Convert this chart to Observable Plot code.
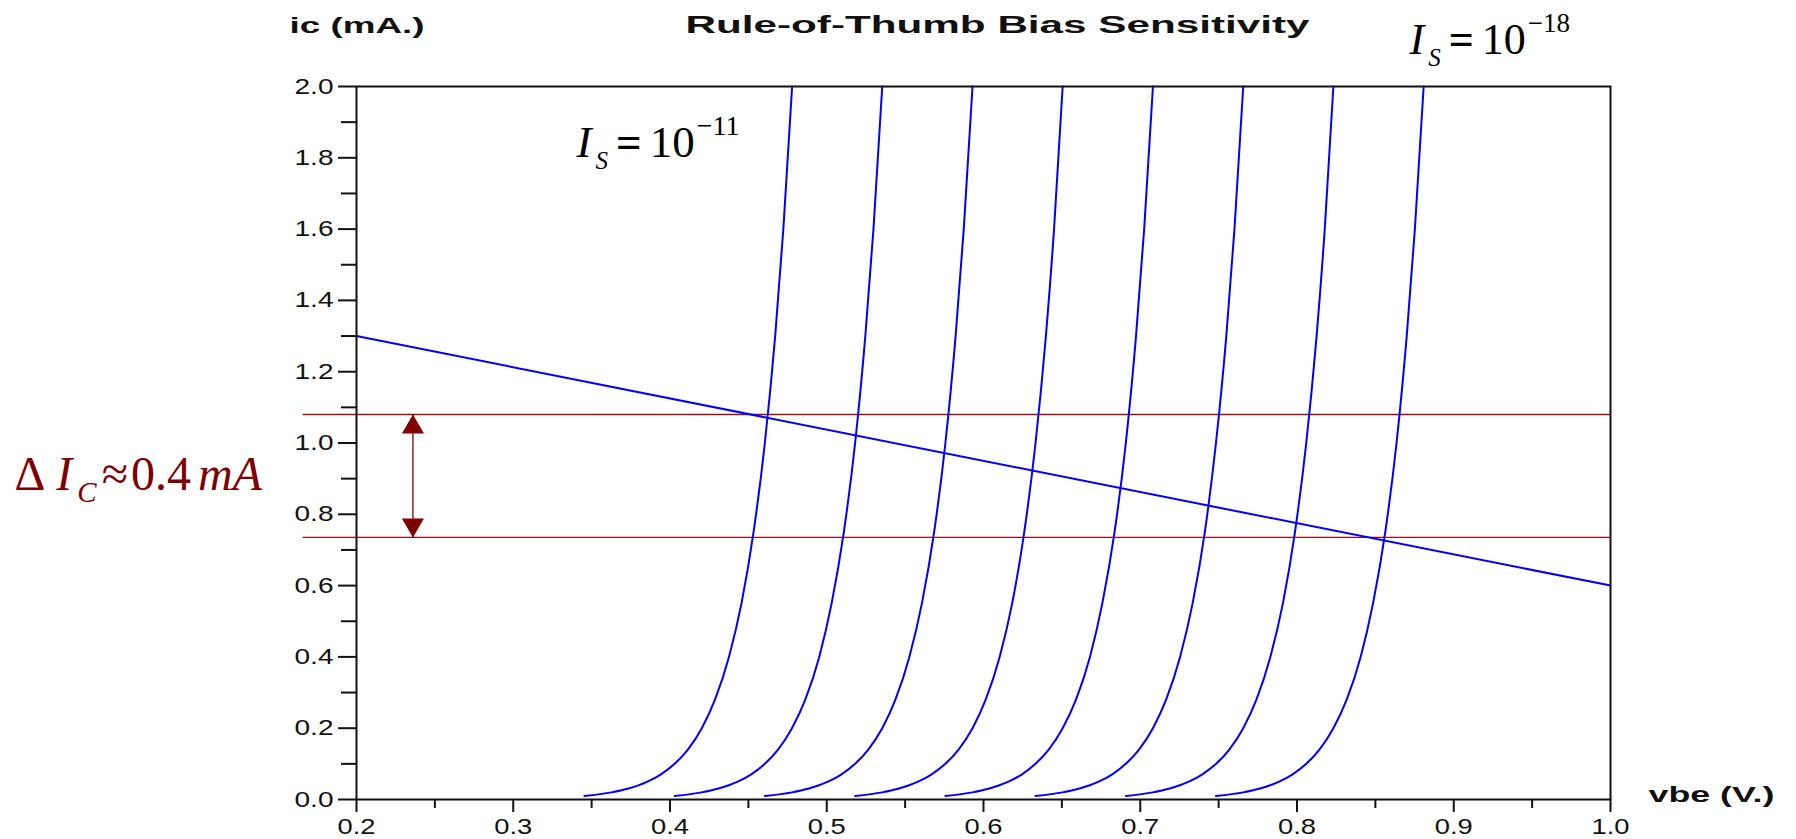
<!DOCTYPE html>
<html>
<head>
<meta charset="utf-8">
<script src="https://cdn.jsdelivr.net/npm/d3@7"></script>
<script src="https://cdn.jsdelivr.net/npm/@observablehq/plot@0.6"></script>
<style>
  html, body { margin: 0; padding: 0; background: #fff; overflow: hidden; }
</style>
</head>
<body>
<script>
// ---- data ----
const vbeTicks = [0.2, 0.3, 0.4, 0.5, 0.6, 0.7, 0.8, 0.9, 1.0];
const vbeMinorTicks = [0.25, 0.35, 0.45, 0.55, 0.65, 0.75, 0.85, 0.95];
const icTicks = [0.0, 0.2, 0.4, 0.6, 0.8, 1.0, 1.2, 1.4, 1.6, 1.8, 2.0];
const icMinorTicks = [0.1, 0.3, 0.5, 0.7, 0.9, 1.1, 1.3, 1.5, 1.7, 1.9];

const isLabels = ["1e-11", "1e-12", "1e-13", "1e-14", "1e-15", "1e-16", "1e-17", "1e-18"];
// collector current levels (mA) sampled along each curve
const icLevels = [0.01, 0.02, 0.03, 0.05, 0.07, 0.1, 0.14, 0.2, 0.28, 0.4, 0.55, 0.75, 1.0, 1.3, 1.6, 2.0];
// base-emitter voltage (V) of each curve at those levels
const vbeIs11 = [0.3454, 0.3627, 0.3729, 0.3856, 0.3940, 0.4030, 0.4114, 0.4203, 0.4287, 0.4376, 0.4456, 0.4533, 0.4605, 0.4671, 0.4723, 0.4779];
const vbeIs12 = [0.4030, 0.4203, 0.4304, 0.4432, 0.4516, 0.4605, 0.4689, 0.4778, 0.4863, 0.4952, 0.5031, 0.5109, 0.5181, 0.5246, 0.5298, 0.5354];
const vbeIs13 = [0.4605, 0.4779, 0.4880, 0.5008, 0.5092, 0.5181, 0.5265, 0.5354, 0.5438, 0.5527, 0.5607, 0.5685, 0.5757, 0.5822, 0.5874, 0.5930];
const vbeIs14 = [0.5181, 0.5354, 0.5455, 0.5583, 0.5667, 0.5757, 0.5841, 0.5930, 0.6014, 0.6103, 0.6183, 0.6260, 0.6332, 0.6398, 0.6450, 0.6505];
const vbeIs15 = [0.5757, 0.5930, 0.6031, 0.6159, 0.6243, 0.6332, 0.6416, 0.6505, 0.6590, 0.6679, 0.6758, 0.6836, 0.6908, 0.6973, 0.7025, 0.7081];
const vbeIs16 = [0.6332, 0.6505, 0.6607, 0.6735, 0.6819, 0.6908, 0.6992, 0.7081, 0.7165, 0.7254, 0.7334, 0.7412, 0.7483, 0.7549, 0.7601, 0.7657];
const vbeIs17 = [0.6908, 0.7081, 0.7182, 0.7310, 0.7394, 0.7484, 0.7568, 0.7657, 0.7741, 0.7830, 0.7910, 0.7987, 0.8059, 0.8125, 0.8177, 0.8232];
const vbeIs18 = [0.7483, 0.7657, 0.7758, 0.7886, 0.7970, 0.8059, 0.8143, 0.8232, 0.8317, 0.8406, 0.8485, 0.8563, 0.8635, 0.8700, 0.8752, 0.8808];

// load line end points
const loadVbe = [0.2, 1.0];
const loadIc = [1.3, 0.6];
// the two operating-point levels marked in red
const deltaIc = [1.08, 0.735];

// text labels
const titleText = "Rule-of-Thumb Bias Sensitivity";
const yLabelText = "ic (mA.)";
const xLabelText = "vbe (V.)";

// ---- build tables ----
const curveVbe = [vbeIs11, vbeIs12, vbeIs13, vbeIs14, vbeIs15, vbeIs16, vbeIs17, vbeIs18];
const curves = [];
curveVbe.forEach((arr, k) => arr.forEach((v, i) => curves.push({is: isLabels[k], vbe: v, ic: icLevels[i]})));
const loadLine = loadVbe.map((v, i) => ({vbe: v, ic: loadIc[i]}));

const RED = "#800000";
const BLUE = "#0000ff";
const AXIS_FONT = "Liberation Sans, Arial, Helvetica, sans-serif";
const MATH_FONT = "Liberation Serif, serif";

const svg = Plot.plot({
  width: 1796,
  height: 839,
  marginLeft: 356,
  marginRight: 186,
  marginTop: 86,
  marginBottom: 40,
  style: {fontFamily: AXIS_FONT, fontSize: "22px", color: "#111", background: "#fff", overflow: "visible"},
  x: {domain: [0.2, 1.0], label: null},
  y: {domain: [0, 2.0], label: null},
  marks: [
    // operating-point levels
    Plot.ruleY(deltaIc, {y: d => d, x1: 0.166, x2: 1.0, stroke: "#9a1010", strokeWidth: 1.3}),
    Plot.ruleX([0.236], {x: d => d, y1: deltaIc[1], y2: deltaIc[0], stroke: RED, strokeWidth: 1.3}),
    Plot.dot([deltaIc[0]], {x: 0.236, y: d => d, symbol: "triangle", r: 8.2, fill: RED, stroke: null, dy: 12.7}),
    Plot.dot([deltaIc[1]], {x: 0.236, y: d => d, symbol: "triangle", r: 8.2, fill: RED, stroke: null, rotate: 180, dy: -12.7}),
    // device curves and load line
    Plot.line(curves, {x: "vbe", y: "ic", z: "is", stroke: BLUE, strokeWidth: 2, curve: "monotone-x"}),
    Plot.line(loadLine, {x: "vbe", y: "ic", stroke: BLUE, strokeWidth: 2}),
    // axes
    Plot.axisY({ticks: icTicks, tickSize: 18, tickPadding: 5, strokeWidth: 2, tickFormat: d => d.toFixed(1), label: null, fontSize: 22}),
    Plot.axisY({ticks: icMinorTicks, tickSize: 15, strokeWidth: 2, tickFormat: () => "", label: null}),
    Plot.axisX({ticks: vbeTicks, tickSize: 13, tickPadding: 6, strokeWidth: 2, tickFormat: d => d.toFixed(1), label: null, fontSize: 22}),
    Plot.axisX({ticks: vbeMinorTicks, tickSize: 9, strokeWidth: 2, tickFormat: () => "", label: null}),
    Plot.frame({stroke: "#111", strokeWidth: 2}),
    // titles
    Plot.text([titleText], {text: d => d, frameAnchor: "top", dx: 14, dy: -54, lineAnchor: "bottom", fontWeight: "bold", fontSize: 23, fill: "#111"}),
    Plot.text([yLabelText], {text: d => d, frameAnchor: "top-left", textAnchor: "start", dx: -67, dy: -54, lineAnchor: "bottom", fontWeight: "bold", fontSize: 22, fill: "#111"}),
    Plot.text([xLabelText], {text: d => d, frameAnchor: "bottom-right", textAnchor: "start", dx: 38, dy: 2, lineAnchor: "bottom", fontWeight: "bold", fontSize: 22, fill: "#111"}),
    // annotations (rich text filled in below)
    Plot.text(["IS=10-11"], {text: d => d, x: 0.3404, y: 1.8036, textAnchor: "start", lineAnchor: "bottom", fontFamily: MATH_FONT, fontSize: 45, fill: "#000"}),
    Plot.text(["IS=10-18"], {text: d => d, x: 0.8718, y: 2.0898, textAnchor: "start", lineAnchor: "bottom", fontFamily: MATH_FONT, fontSize: 44, fill: "#000"}),
    Plot.text(["DIC~0.4mA"], {text: d => d, x: -0.0182, y: 0.8668, textAnchor: "start", lineAnchor: "bottom", fontFamily: MATH_FONT, fontSize: 48, fill: RED})
  ]
});

document.body.appendChild(svg);

const allTexts = Array.from(svg.querySelectorAll("text"));
const byContent = s => allTexts.filter(t => t.textContent === s);

function stretchEl(t, len) {
  t.setAttribute("textLength", len);
  t.setAttribute("lengthAdjust", "spacingAndGlyphs");
}
// stretch the Scilab-style lettering horizontally
const tickRe = /^\d\.\d$/;
allTexts.forEach(t => {
  if (!tickRe.test(t.textContent)) return;
  const anchorEl = t.closest("[text-anchor]");
  const anchor = anchorEl ? anchorEl.getAttribute("text-anchor") : "middle";
  stretchEl(t, anchor === "end" ? 39 : 38);
});
byContent(titleText).forEach(t => stretchEl(t, 624));
byContent(yLabelText).forEach(t => stretchEl(t, 135));
byContent(xLabelText).forEach(t => stretchEl(t, 126));

// rich math labels
function rich(content, parts) {
  byContent(content).forEach(t => {
    t.textContent = "";
    for (const p of parts) {
      const ts = document.createElementNS("http://www.w3.org/2000/svg", "tspan");
      ts.textContent = p.text;
      for (const [k, v] of Object.entries(p)) if (k !== "text") ts.setAttribute(k, v);
      t.appendChild(ts);
    }
  });
}
const isParts = (exp, big) => [
  {text: "I", "font-style": "italic"},
  {text: "S", "font-style": "italic", "font-size": 25, dx: 4, dy: 12},
  {text: "=", "font-weight": "bold", dx: 8, dy: -12},
  {text: "10", dx: 8},
  {text: "\u2212" + exp, "font-size": big ? 28 : 27, dx: 2, dy: -22}
];
rich("IS=10-11", isParts("11", true));
rich("IS=10-18", isParts("18", false));
rich("DIC~0.4mA", [
  {text: "\u0394"},
  {text: "I", "font-style": "italic", dx: 11},
  {text: "C", "font-style": "italic", "font-size": 29, dx: 5, dy: 12},
  {text: "\u2248", dx: 5, dy: -12},
  {text: "0.4", dx: 3},
  {text: "mA", "font-style": "italic", dx: 7}
]);
</script>
</body>
</html>
